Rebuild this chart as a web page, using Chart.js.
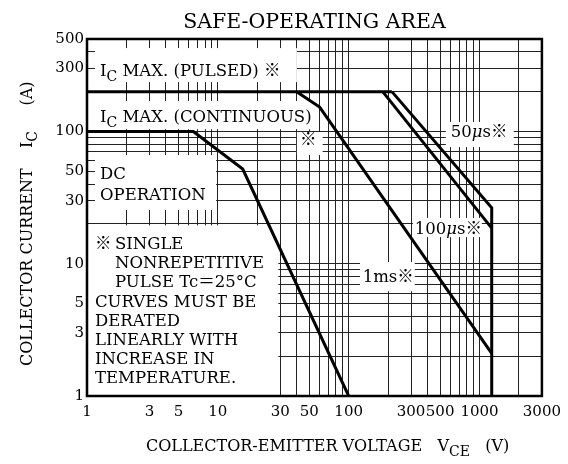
<!DOCTYPE html>
<html>
<head>
<meta charset="utf-8">
<script src="https://cdn.jsdelivr.net/npm/chart.js@4.4.0/dist/chart.umd.min.js"></script>
<style>
  html, body { margin: 0; padding: 0; background: #fff; }
  #wrap { width: 568px; height: 464px; }
</style>
</head>
<body>
<div id="wrap"><canvas id="soa"></canvas></div>
<script>
// grid lines and labelled ticks
const xGrid = [1, 2, 3, 4, 5, 6, 7, 8, 9, 10, 20, 30, 40, 50, 60, 70, 80, 90,
  100, 200, 300, 400, 500, 600, 700, 800, 900, 1000, 2000, 3000];
const yGrid = [1, 2, 3, 4, 5, 6, 7, 8, 9, 10, 20, 30, 40, 50, 60, 70, 80, 90,
  100, 200, 300, 400, 500];
const xLabels = [1, 3, 5, 10, 30, 50, 100, 300, 500, 1000, 3000];
const yLabels = [1, 3, 5, 10, 30, 50, 100, 300, 500];

// curves (VCE in V, IC in A)
const pulsedV = [1, 214];
const pulsedI = [200, 200];
const dcV = [1, 6.5, 15.5, 100];
const dcI = [100, 100, 52, 1];
const ms1V = [40, 60, 1240];
const ms1I = [200, 153, 2.1];
const us100V = [182, 1240];
const us100I = [200, 18.6];
const us50V = [214, 1240, 1240];
const us50I = [200, 26.5, 1];

const SERIF = "'DejaVu Serif', 'Noto Sans CJK JP', serif";
function font(size, italic) {
  return (italic ? "italic " : "") + size + "px " + SERIF;
}

function toPoints(xs, ys) {
  return xs.map((x, i) => ({ x: x, y: ys[i] }));
}

// draw text made of parts: [text, kind] with kind '' | 'sub' | 'it'
function drawRich(ctx, parts, x, y, size) {
  let cx = x;
  parts.forEach(([t, kind]) => {
    const sz = kind === "sub" ? Math.round(size * 0.85) : size;
    ctx.font = font(sz, kind === "it");
    const dy = kind === "sub" ? size * 0.3 : 0;
    ctx.fillText(t, cx, y + dy);
    cx += ctx.measureText(t).width;
  });
  return cx - x;
}

// white label boxes that hide the grid [x1, x2, y1, y2] in data units
const labelBoxes = [
  [1.15, 40.2, 236, 427],
  [1.15, 58, 104, 170],
  [40.2, 63.3, 66.3, 99],
  [1.15, 9.7, 25.5, 66.3],
  [1, 29, 1, 19.5],
  [553, 1828, 76.2, 118],
  [310, 1042, 15.9, 22.2],
  [122, 320, 6.2, 10.3],
];

const labelTexts = [
  { x: 1.257, y: 262, parts: [["I", ""], ["C", "sub"], [" MAX. (PULSED) ※", ""]] },
  { x: 1.257, y: 117.8, parts: [["I", ""], ["C", "sub"], [" MAX. (CONTINUOUS)", ""]] },
  { x: 42.4, y: 79, parts: [["※", ""]] },
  { x: 1.257, y: 43.7, parts: [["DC", ""]] },
  { x: 1.257, y: 30.3, parts: [["OPERATION", ""]] },
  { x: 604, y: 90.7, parts: [["50", ""], ["μ", "it"], ["s※", ""]] },
  { x: 320, y: 16.8, parts: [["100", ""], ["μ", "it"], ["s※", ""]] },
  { x: 128, y: 7.27, parts: [["1ms※", ""]] },
  { x: 1.151, y: 12.9, parts: [["※", ""]] },
  { x: 1.636, y: 12.9, parts: [["SINGLE", ""]] },
  { x: 1.636, y: 9.28, parts: [["NONREPETITIVE", ""]] },
  { x: 1.636, y: 6.67, parts: [["PULSE Tc＝25°C", ""]] },
  { x: 1.151, y: 4.71, parts: [["CURVES MUST BE", ""]] },
  { x: 1.151, y: 3.38, parts: [["DERATED", ""]] },
  { x: 1.151, y: 2.43, parts: [["LINEARLY WITH", ""]] },
  { x: 1.151, y: 1.746, parts: [["INCREASE IN", ""]] },
  { x: 1.151, y: 1.254, parts: [["TEMPERATURE.", ""]] },
];

const soaDecor = {
  id: "soaDecor",
  beforeDatasetsDraw(chart) {
    const ctx = chart.ctx;
    const xs = chart.scales.x;
    const ys = chart.scales.y;
    ctx.save();
    ctx.fillStyle = "#fff";
    labelBoxes.forEach(([x1, x2, y1, y2]) => {
      const l = xs.getPixelForValue(x1);
      const r = xs.getPixelForValue(x2);
      const t = ys.getPixelForValue(y2);
      const b = ys.getPixelForValue(y1);
      ctx.fillRect(l, t, r - l, b - t);
    });
    ctx.fillStyle = "#000";
    ctx.textBaseline = "alphabetic";
    ctx.textAlign = "left";
    labelTexts.forEach((lb) => {
      drawRich(ctx, lb.parts, xs.getPixelForValue(lb.x), ys.getPixelForValue(lb.y), 16.5);
    });
    ctx.restore();
  },
  afterDraw(chart) {
    const ctx = chart.ctx;
    const a = chart.chartArea;
    ctx.save();
    ctx.strokeStyle = "#000";
    ctx.lineWidth = 2.5;
    ctx.strokeRect(a.left, a.top, a.right - a.left, a.bottom - a.top);

    ctx.fillStyle = "#000";
    ctx.textBaseline = "alphabetic";
    ctx.textAlign = "center";
    ctx.font = font(20.5);
    ctx.fillText("SAFE-OPERATING AREA", (a.left + a.right) / 2, 28);

    ctx.textAlign = "left";
    drawRich(ctx, [["COLLECTOR-EMITTER VOLTAGE   V", ""], ["CE", "sub"], ["   (V)", ""]], 146, 451, 16);

    ctx.translate(32, 366);
    ctx.rotate(-Math.PI / 2);
    drawRich(ctx, [["COLLECTOR CURRENT    I", ""], ["C", "sub"], ["     (A)", ""]], 0, 0, 16);
    ctx.restore();
  },
};

const lineStyle = {
  showLine: true,
  borderColor: "#000",
  borderWidth: 3,
  pointRadius: 0,
  tension: 0,
  fill: false,
  borderJoinStyle: "miter",
};

new Chart(document.getElementById("soa"), {
  type: "scatter",
  data: {
    datasets: [
      { ...lineStyle, label: "IC max pulsed", data: toPoints(pulsedV, pulsedI) },
      { ...lineStyle, label: "DC", data: toPoints(dcV, dcI) },
      { ...lineStyle, label: "1ms", data: toPoints(ms1V, ms1I) },
      { ...lineStyle, label: "100us", data: toPoints(us100V, us100I) },
      { ...lineStyle, label: "50us", data: toPoints(us50V, us50I) },
    ],
  },
  options: {
    responsive: true,
    maintainAspectRatio: false,
    animation: false,
    layout: { padding: { left: 0, right: 26, top: 39, bottom: 0 } },
    plugins: {
      legend: { display: false },
      tooltip: { enabled: false },
    },
    scales: {
      x: {
        type: "logarithmic",
        min: 1,
        max: 3000,
        border: { display: false },
        grid: { color: "#222", lineWidth: 1, drawTicks: false },
        afterBuildTicks: (scale) => {
          scale.ticks = xGrid.map((v) => ({ value: v }));
        },
        afterFit: (scale) => {
          scale.height = 68;
        },
        ticks: {
          autoSkip: false,
          maxRotation: 0,
          padding: 7,
          color: "#000",
          font: { family: SERIF, size: 15 },
          callback: (value) => (xLabels.includes(value) ? String(value) : ""),
        },
      },
      y: {
        type: "logarithmic",
        min: 1,
        max: 500,
        border: { display: false },
        grid: { color: "#222", lineWidth: 1, drawTicks: false },
        afterBuildTicks: (scale) => {
          scale.ticks = yGrid.map((v) => ({ value: v }));
        },
        afterFit: (scale) => {
          scale.width = 87;
        },
        ticks: {
          autoSkip: false,
          padding: 3,
          color: "#000",
          font: { family: SERIF, size: 15 },
          callback: (value) => (yLabels.includes(value) ? String(value) : ""),
        },
      },
    },
  },
  plugins: [soaDecor],
});
</script>
</body>
</html>
